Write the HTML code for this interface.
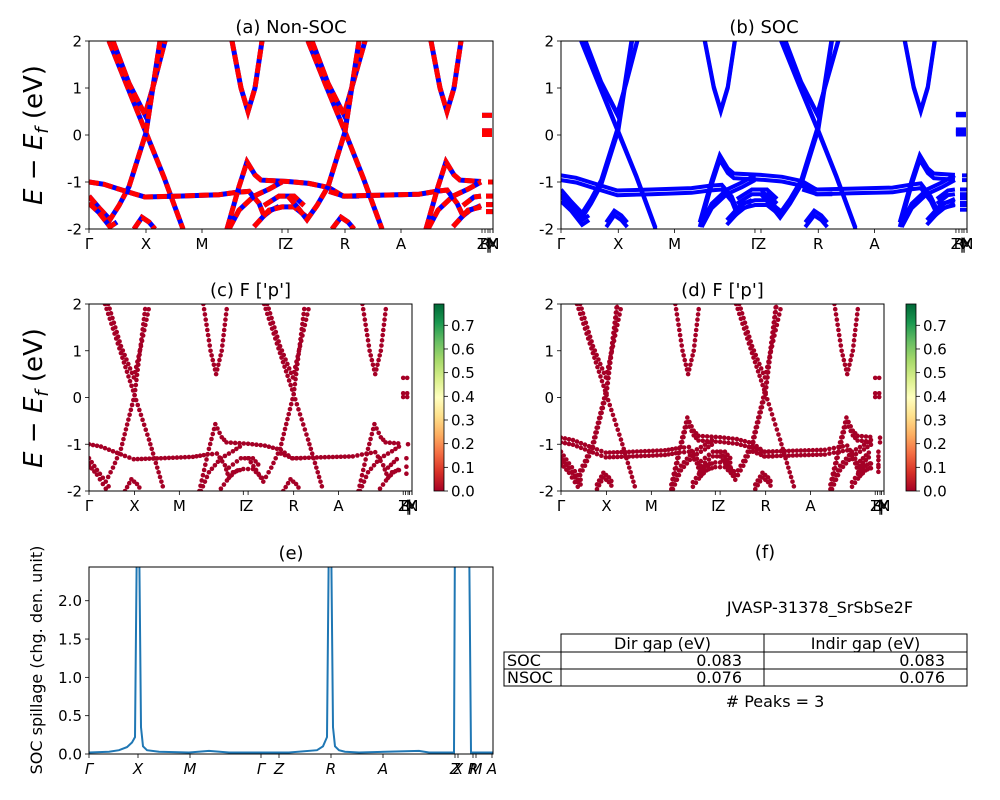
<!DOCTYPE html>
<html><head><meta charset="utf-8"><style>
html,body{margin:0;padding:0;background:#fff}
svg{display:block;font-family:"DejaVu Sans","Liberation Sans",sans-serif}
</style></head><body>
<svg id="fig" width="1000" height="800" viewBox="0 0 1000 800" xmlns="http://www.w3.org/2000/svg">
<defs>
<linearGradient id="rdylgn" x1="0" y1="1" x2="0" y2="0">
<stop offset="0" stop-color="#a50026"/><stop offset="0.1" stop-color="#d73027"/><stop offset="0.2" stop-color="#f46d43"/><stop offset="0.3" stop-color="#fdae61"/><stop offset="0.4" stop-color="#fee08b"/><stop offset="0.5" stop-color="#ffffbf"/><stop offset="0.6" stop-color="#d9ef8b"/><stop offset="0.7" stop-color="#a6d96a"/><stop offset="0.8" stop-color="#66bd63"/><stop offset="0.9" stop-color="#1a9850"/><stop offset="1" stop-color="#006837"/>
</linearGradient>
</defs>
</svg>
<script>
// ---- band structure data (path units 0..404, energy eV) ----
const bandTickPos = [0,57,113,193,199,256,312,393,396,399,401,404,404];
const bandTickLabels = ["Γ","X","M","Γ","Z","R","A","Z","R","|","|","X","M"];
const bandYTicks = [-2,-1,0,1,2];
const bands = [
 [[20,2],[38,1.05],[57,0.05],[75,-0.9],[94,-2]],
 [[24,2],[40,1.1],[56,0.43],[65,1.1],[76,2]],
 [[0,-1.3],[10,-1.55],[21,-1.8],[30,-1.5],[40,-1.1],[57,0.05],[71,2]],
 [[0,-1.0],[15,-1.05],[30,-1.15],[45,-1.25],[56,-1.32],[90,-1.3],[130,-1.27],[148,-1.22],[160,-1.2],[170,-1.45],[175,-1.72],[182,-1.6],[190,-1.52]],
 [[138,-2],[150,-1.1],[158,-0.57],[166,-0.85],[172,-0.96],[199,-0.99],[220,-1.03],[240,-1.12],[254,-1.3],[270,-1.3]],
 [[140,-2],[150,-1.6],[165,-1.3],[180,-1.15],[193,-1.0]],
 [[0,-1.45],[10,-1.65],[21,-1.95],[28,-1.85]],
 [[45,-2],[53,-1.75],[60,-1.85],[66,-2]],
 [[175,-1.5],[190,-1.3],[205,-1.3],[215,-1.5]],
 [[165,-1.95],[180,-1.6],[193,-1.53],[205,-1.53],[220,-1.78]],
 [[143,2],[152,1.0],[159,0.5],[166,1.0],[173,2]],
 [[219,2],[237,1.05],[256,0.07],[274,-0.9],[293,-2]],
 [[223,2],[239,1.1],[255,0.43],[264,1.1],[276,2]],
 [[199,-1.3],[209,-1.55],[218,-1.8],[228,-1.5],[239,-1.1],[256,0.07],[270,2]],
 [[240,-1.2],[255,-1.3],[290,-1.28],[330,-1.26],[347,-1.2],[358,-1.17],[368,-1.45],[374,-1.72],[381,-1.6],[392,-1.5]],
 [[337,-2],[349,-1.1],[357,-0.57],[365,-0.85],[371,-0.96],[392,-0.99]],
 [[339,-2],[349,-1.6],[364,-1.3],[379,-1.15],[392,-1.0]],
 [[243,-2],[252,-1.75],[259,-1.85],[265,-2]],
 [[374,-1.5],[385,-1.32],[392,-1.3]],
 [[364,-1.95],[379,-1.6],[392,-1.53]],
 [[342,2],[351,1.0],[358,0.5],[365,1.0],[372,2]],
 [[393,0.42],[403,0.42]],[[393,0.09],[403,0.09]],[[393,0.01],[403,0.01]],
 [[399,-1.0],[404,-1.0]],[[397,-1.3],[404,-1.3]],[[397,-1.48],[404,-1.48]],[[397,-1.63],[404,-1.63]]
];
// ---- spillage data ----
const spillTickPos = [0,49,101,172,190,242,294,366,369,384,387,403];
const spillTickLabels = ["Γ","X","M","Γ","Z","R","A","Z","X","R","M","A"];
const spillYTicks = [0,0.5,1,1.5,2];
const spillK = [0,20,30,38,43,46,48,50,52,54,58,70,100,120,140,200,228,234,238,240,242,244,246,250,256,270,330,340,360,365,366,380,382,390,404];
const spillV = [0.02,0.03,0.05,0.09,0.15,0.22,3,3,0.35,0.1,0.05,0.03,0.02,0.04,0.02,0.02,0.05,0.1,0.22,3,3,0.35,0.1,0.05,0.03,0.02,0.04,0.02,0.02,0.02,3,3,0.02,0.02,0.02];
const colorbarTicks = [0,0.1,0.2,0.3,0.4,0.5,0.6,0.7];
const tableHeader = ["Dir gap (eV)","Indir gap (eV)"];
const tableRows = ["SOC","NSOC"];
const tableDir = ["0.083","0.076"];
const tableIndir = ["0.083","0.076"];

const NS="http://www.w3.org/2000/svg";
const svg=document.getElementById('fig');
function mk(tag,attrs,parent,text){const e=document.createElementNS(NS,tag);for(const k in attrs)e.setAttribute(k,attrs[k]);if(text!==undefined)e.textContent=text;(parent||svg).appendChild(e);return e;}
function axis(x0,y0,w,h,xmin,xmax,ymin,ymax){return{x:v=>x0+(v-xmin)/(xmax-xmin)*w,y:v=>y0+h-(v-ymin)/(ymax-ymin)*h,x0,y0,w,h};}

function frame(ax,name,title,xt,xl,yt,yfmt,italic){
  const g=mk('g',{});
  
  
  const t=mk('text',{x:ax.x0+ax.w/2,y:ax.y0-8,'text-anchor':'middle','font-size':18},g,title);
  
  
  xt.forEach((p,i)=>{const X=ax.x(p);mk('line',{x1:X,x2:X,y1:ax.y0+ax.h,y2:ax.y0+ax.h+4,stroke:'#000','stroke-width':0.8},g);
    const l=mk('text',{x:X,y:ax.y0+ax.h+20,'text-anchor':'middle','font-size':15,'font-style':italic?'italic':'normal'},g,xl[i]);
    
    });
  yt.forEach(v=>{const Y=ax.y(v);mk('line',{x1:ax.x0-4,x2:ax.x0,y1:Y,y2:Y,stroke:'#000','stroke-width':0.8},g);
    const l=mk('text',{x:ax.x0-7,y:Y+5.5,'text-anchor':'end','font-size':15},g,yfmt(v));
    
    });
  return g;
}
function border(ax){const r=mk('rect',{x:ax.x0,y:ax.y0,width:ax.w,height:ax.h,fill:'none',stroke:'#000','stroke-width':1});
  
  }
function clip(id,ax){const c=mk('clipPath',{id});mk('rect',{x:ax.x0,y:ax.y0,width:ax.w,height:ax.h},c);}
function pathOf(ax,b,dy){return b.map((p,i)=>(i?'L':'M')+ax.x(p[0]).toFixed(1)+','+ax.y(p[1]+(dy||0)).toFixed(1)).join('');}
function ylabel(x,y,size,content){const t=mk('text',{transform:`translate(${x},${y}) rotate(-90)`,'text-anchor':'middle','font-size':size});t.innerHTML=content;return t;}

// (a)
const axA=axis(89,41,404,188,0,404,-2,2);
frame(axA,'panel-a','(a) Non-SOC',bandTickPos,bandTickLabels,bandYTicks,v=>v.toFixed(0));
clip('ca',axA);
const gA=mk('g',{'clip-path':'url(#ca)'});
bands.forEach(b=>{
  const p1=mk('path',{d:pathOf(axA,b),fill:'none',stroke:'#0000ff','stroke-width':5},gA);
  
  
  const p2=mk('path',{d:pathOf(axA,b),fill:'none',stroke:'#ff0000','stroke-width':5,'stroke-dasharray':'10,4'},gA);
  
  
});
border(axA);
// (b)
const axB=axis(561,41,406,188,0,404,-2,2);
frame(axB,'panel-b','(b) SOC',bandTickPos,bandTickLabels,bandYTicks,v=>v.toFixed(0));
clip('cb',axB);
const gB=mk('g',{'clip-path':'url(#cb)'});
bands.forEach(b=>{
  const val=b[0][1]<-0.5;
  const shifts=val?[0.04,0.14]:[0,0.03];
  shifts.forEach(d=>{
    const p=mk('path',{d:pathOf(axB,b,d),fill:'none',stroke:'#0000ff','stroke-width':4},gB);
    
    
  });
});
border(axB);

// scatter panels
function scatterPanel(ax,cid,name,title,shift){
  frame(ax,name,title,bandTickPos,bandTickLabels,bandYTicks,v=>v.toFixed(0));
  clip(cid,ax);
  const g=mk('g',{'clip-path':`url(#${cid})`});
  bands.forEach(b=>{
    const dys=shift&&b[0][1]<-0.5?[0.04,0.14]:[0];
    dys.forEach(dy=>{
    for(let i=0;i<b.length-1;i++){
      const [k0,e0]=b[i],[k1,e1]=b[i+1];
      const len=Math.hypot((k1-k0),(e1-e0)*45);const n=Math.max(1,Math.round(len/5));
      for(let j=0;j<n;j++){const t=j/n;
        const c=mk('circle',{cx:ax.x(k0+(k1-k0)*t),cy:ax.y(e0+(e1-e0)*t+dy),r:2.3,fill:'#a50026'},g);
        
        }
    }});
  });
  border(ax);
}
function colorbar(x,name){
  const cb=axis(x,304,10,187,0,1,0,0.79);
  const g=mk('g',{});
  
  
  mk('rect',{x:x,y:304,width:10,height:187,fill:'url(#rdylgn)',stroke:'#000','stroke-width':0.8},g);
  colorbarTicks.forEach(v=>{const Y=cb.y(v);mk('line',{x1:x+10,x2:x+14,y1:Y,y2:Y,stroke:'#000','stroke-width':0.8},g);
    const l=mk('text',{x:x+17,y:Y+5.5,'font-size':15},g,v.toFixed(1));
    
    });
}
scatterPanel(axis(89,304,323,187,0,404,-2,2),'cc','panel-c','(c)  F [\'p\']',false);
colorbar(434,'colorbar-c');
scatterPanel(axis(561,304,323,187,0,404,-2,2),'cd','panel-d','(d) F [\'p\']',true);
colorbar(906,'colorbar-d');

ylabel(42,135,26,'<tspan font-style="italic">E</tspan> − <tspan font-style="italic">E</tspan><tspan font-style="italic" font-size="18" dy="6">f</tspan><tspan dy="-6"> (eV)</tspan>');
ylabel(42,398,26,'<tspan font-style="italic">E</tspan> − <tspan font-style="italic">E</tspan><tspan font-style="italic" font-size="18" dy="6">f</tspan><tspan dy="-6"> (eV)</tspan>');

// (e)
const axE=axis(89,567,404,187,0,404,0,2.44);
frame(axE,'panel-e','(e)',spillTickPos,spillTickLabels,spillYTicks,v=>v.toFixed(1),true);
clip('ce',axE);
const gE=mk('g',{'clip-path':'url(#ce)'});
const sp=mk('path',{d:spillK.map((k,i)=>(i?'L':'M')+axE.x(k).toFixed(1)+','+axE.y(spillV[i]).toFixed(1)).join(''),fill:'none',stroke:'#1f77b4','stroke-width':2},gE);


border(axE);
const yl=ylabel(42,660,16,'SOC spillage (chg. den. unit)');


// (f)
const ft=mk('text',{x:765,y:558,'text-anchor':'middle','font-size':18},svg,'(f)');


const jt=mk('text',{x:820,y:613,'text-anchor':'middle','font-size':16},svg,'JVASP-31378_SrSbSe2F');


const tg=mk('g',{});


const cols=[[561,764],[764,967]];
cols.forEach((c,i)=>{mk('rect',{x:c[0],y:634,width:c[1]-c[0],height:18,fill:'none',stroke:'#000'},tg);
  mk('text',{x:(c[0]+c[1])/2,y:649,'text-anchor':'middle','font-size':16},tg,tableHeader[i]);});
tableRows.forEach((r,i)=>{const y=652+i*17;
  mk('rect',{x:504,y,width:57,height:17,fill:'none',stroke:'#000'},tg);
  mk('text',{x:507,y:y+14,'font-size':16},tg,r);
  mk('rect',{x:561,y,width:203,height:17,fill:'none',stroke:'#000'},tg);
  mk('text',{x:742,y:y+14,'text-anchor':'end','font-size':16},tg,tableDir[i]);
  mk('rect',{x:764,y,width:203,height:17,fill:'none',stroke:'#000'},tg);
  mk('text',{x:945,y:y+14,'text-anchor':'end','font-size':16},tg,tableIndir[i]);});
const pk=mk('text',{x:775,y:707,'text-anchor':'middle','font-size':16},svg,'# Peaks = 3');


</script>
</body></html>
